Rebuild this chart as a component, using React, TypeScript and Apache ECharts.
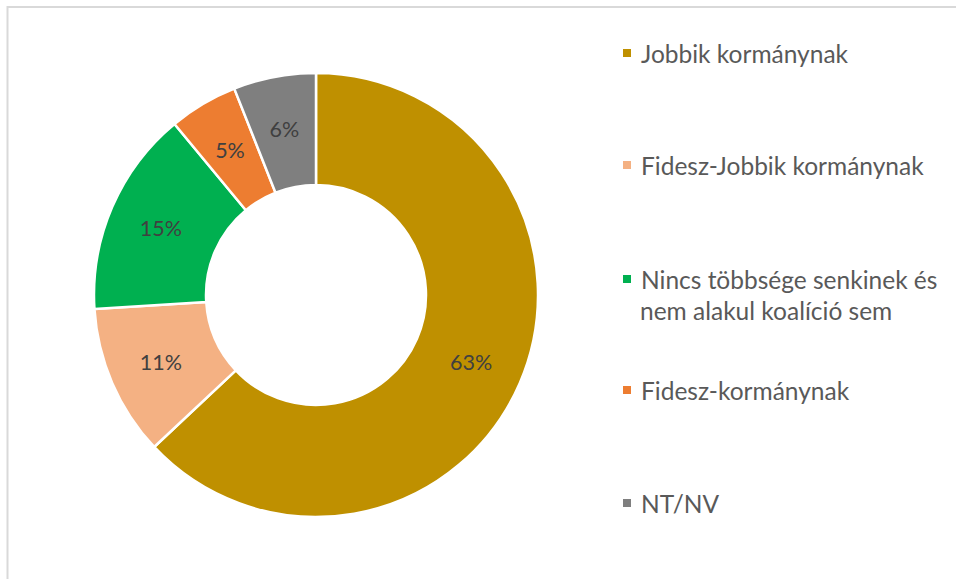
import React, { useEffect, useRef } from "react";
import * as echarts from "echarts";

const categories = [
  "Jobbik kormánynak",
  "Fidesz-Jobbik kormánynak",
  "Nincs többsége senkinek és nem alakul koalíció sem",
  "Fidesz-kormánynak",
  "NT/NV",
];
const values = [63, 11, 15, 5, 6];
const colors = ["#BF9000", "#F4B183", "#00B050", "#ED7D31", "#7F7F7F"];
const legendLabels = [
  "Jobbik kormánynak",
  "Fidesz-Jobbik kormánynak",
  "Nincs többsége senkinek és",
  "Fidesz-kormánynak",
  "NT/NV",
];
const legendExtraLine = "nem alakul koalíció sem";
const legendCenters = [53, 165, 279, 390, 503];

const FONT = "Lato";
const LEG_SIZE = 24.5;

export default function App() {
  const ref = useRef<HTMLDivElement>(null);
  useEffect(() => {
    if (!ref.current) return;
    const chart = echarts.init(ref.current, null, { renderer: "svg" });
    const L = 31;
    const legends = categories.map((name, i) => ({
      orient: "vertical",
      left: 621,
      top: legendCenters[i] - L / 2,
      data: [name],
      icon: "rect",
      itemWidth: 10,
      itemHeight: 10,
      itemGap: 0,
      padding: 0,
      selectedMode: false,
      formatter: () => legendLabels[i],
      textStyle: {
        fontFamily: FONT,
        fontSize: LEG_SIZE,
        color: "#595959",
        lineHeight: L,
        padding: [0, 0, 0, 4],
      },
    }));
    chart.setOption({
      animation: false,
      backgroundColor: "#fff",
      color: colors,
      graphic: [
        {
          type: "rect",
          shape: { x: 7.5, y: 7, width: 1000, height: 700 },
          style: { fill: "none", stroke: "#D9D9D9", lineWidth: 2 },
          silent: true,
        },
        {
          type: "text",
          x: 640,
          y: 310,
          silent: true,
          style: {
            text: legendExtraLine,
            fontFamily: FONT,
            fontSize: LEG_SIZE,
            fill: "#595959",
            verticalAlign: "middle",
            align: "left",
          },
        },
      ],
      legend: legends,
      series: [
        {
          type: "pie",
          center: [316, 295],
          radius: [110, 222],
          startAngle: 90,
          clockwise: true,
          avoidLabelOverlap: false,
          itemStyle: { borderColor: "#fff", borderWidth: 2.5 },
          label: {
            show: true,
            position: "inside",
            formatter: "{c}%",
            fontFamily: FONT,
            fontSize: 21.5,
            color: "#404040",
          },
          labelLine: { show: false },
          emphasis: { disabled: true },
          data: categories.map((n, i) => ({ name: n, value: values[i] })),
        },
      ],
    });
    return () => chart.dispose();
  }, []);
  return (
    <div
      ref={ref}
      style={{ position: "fixed", left: 0, top: 0, width: 956, height: 579 }}
    />
  );
}
